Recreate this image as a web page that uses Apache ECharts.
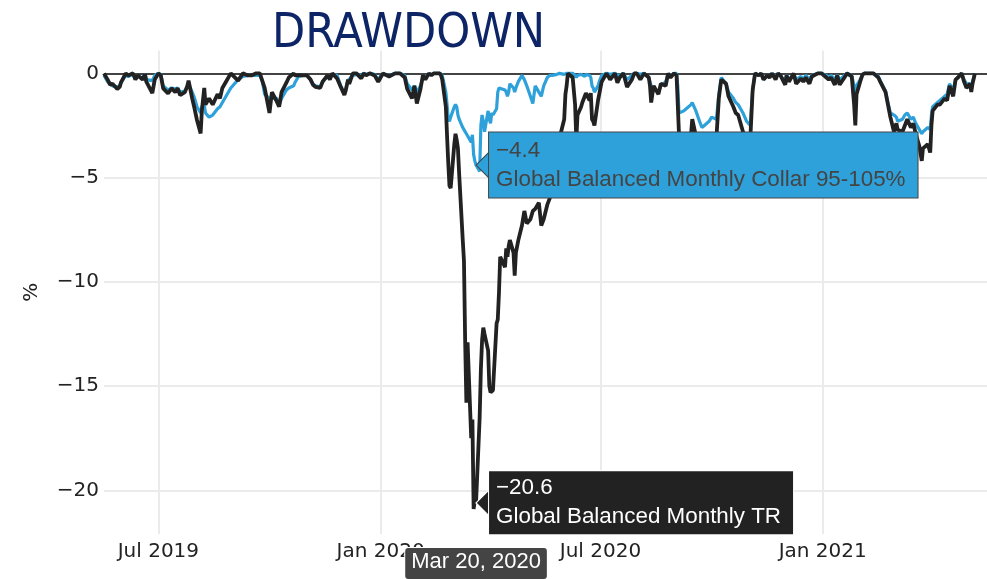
<!DOCTYPE html>
<html><head><meta charset="utf-8">
<script src="https://cdn.jsdelivr.net/npm/echarts@6/dist/echarts.min.js"></script>
<style>html,body{margin:0;padding:0;background:#fff}#c{width:987px;height:579px}</style>
</head><body><div id="c"></div>
<script>
const dates = [
'2019-05-17','2019-05-20','2019-05-22','2019-05-24','2019-05-28','2019-05-30','2019-05-31','2019-06-04','2019-06-06','2019-06-10',
'2019-06-12','2019-06-14','2019-06-18','2019-06-20','2019-06-21','2019-06-26','2019-06-28','2019-07-01','2019-07-03','2019-07-05',
'2019-07-09','2019-07-12','2019-07-15','2019-07-17','2019-07-19','2019-07-23','2019-07-25','2019-07-26','2019-07-29','2019-07-31',
'2019-08-02','2019-08-05','2019-08-06','2019-08-08','2019-08-09','2019-08-12','2019-08-15','2019-08-19','2019-08-21','2019-08-23',
'2019-08-26','2019-08-29','2019-08-30','2019-09-05','2019-09-09','2019-09-13','2019-09-16','2019-09-20','2019-09-23','2019-09-25',
'2019-09-27','2019-10-01','2019-10-03','2019-10-07','2019-10-09','2019-10-11','2019-10-15','2019-10-17','2019-10-21','2019-10-22',
'2019-10-25','2019-10-29','2019-11-01','2019-11-04','2019-11-06','2019-11-08','2019-11-12','2019-11-14','2019-11-18','2019-11-20',
'2019-11-22','2019-11-26','2019-11-29','2019-12-02','2019-12-03','2019-12-05','2019-12-06','2019-12-09','2019-12-12','2019-12-16',
'2019-12-18','2019-12-20','2019-12-23','2019-12-27','2019-12-30','2020-01-02','2020-01-03','2020-01-08','2020-01-13','2020-01-17',
'2020-01-21','2020-01-23','2020-01-27','2020-01-29','2020-01-31','2020-02-03','2020-02-05','2020-02-07','2020-02-10','2020-02-12',
'2020-02-14','2020-02-19','2020-02-20','2020-02-21','2020-02-24','2020-02-25','2020-02-26','2020-02-27','2020-02-28','2020-03-02',
'2020-03-03','2020-03-04','2020-03-05','2020-03-06','2020-03-09','2020-03-10','2020-03-11','2020-03-12','2020-03-13','2020-03-16',
'2020-03-17','2020-03-18','2020-03-19','2020-03-20','2020-03-23','2020-03-24','2020-03-25','2020-03-26','2020-03-27','2020-03-30',
'2020-03-31','2020-04-01','2020-04-02','2020-04-03','2020-04-06','2020-04-07','2020-04-08','2020-04-09','2020-04-13','2020-04-14',
'2020-04-15','2020-04-16','2020-04-17','2020-04-20','2020-04-21','2020-04-22','2020-04-24','2020-04-27','2020-04-29','2020-05-01',
'2020-05-04','2020-05-06','2020-05-08','2020-05-11','2020-05-13','2020-05-15','2020-05-18','2020-05-20','2020-05-22','2020-05-26',
'2020-05-28','2020-05-29','2020-06-01','2020-06-02','2020-06-03','2020-06-04','2020-06-08','2020-06-10','2020-06-11','2020-06-12',
'2020-06-15','2020-06-16','2020-06-18','2020-06-19','2020-06-22','2020-06-23','2020-06-24','2020-06-25','2020-06-26','2020-06-29',
'2020-06-30','2020-07-02','2020-07-06','2020-07-09','2020-07-13','2020-07-15','2020-07-17','2020-07-20','2020-07-23','2020-07-27',
'2020-07-29','2020-07-31','2020-08-03','2020-08-06','2020-08-10','2020-08-11','2020-08-12','2020-08-14','2020-08-18','2020-08-20',
'2020-08-24','2020-08-26','2020-08-28','2020-08-31','2020-09-02','2020-09-03','2020-09-04','2020-09-08','2020-09-10','2020-09-14',
'2020-09-15','2020-09-18','2020-09-21','2020-09-23','2020-09-25','2020-09-29','2020-10-01','2020-10-05','2020-10-07','2020-10-09',
'2020-10-13','2020-10-15','2020-10-19','2020-10-21','2020-10-23','2020-10-27','2020-10-30','2020-11-02','2020-11-04','2020-11-06',
'2020-11-09','2020-11-11','2020-11-13','2020-11-16','2020-11-18','2020-11-20','2020-11-23','2020-11-25','2020-11-27','2020-12-01',
'2020-12-02','2020-12-04','2020-12-08','2020-12-10','2020-12-14','2020-12-16','2020-12-18','2020-12-21','2020-12-23','2020-12-28',
'2020-12-31','2021-01-04','2021-01-06','2021-01-08','2021-01-11','2021-01-13','2021-01-15','2021-01-19','2021-01-21','2021-01-25',
'2021-01-27','2021-01-28','2021-01-29','2021-02-01','2021-02-03','2021-02-05','2021-02-09','2021-02-12','2021-02-16','2021-02-18',
'2021-02-22','2021-02-24','2021-02-26','2021-03-01','2021-03-03','2021-03-04','2021-03-08','2021-03-10','2021-03-12','2021-03-15',
'2021-03-17','2021-03-19','2021-03-22','2021-03-24','2021-03-25','2021-03-29','2021-03-31','2021-04-01','2021-04-02','2021-04-06',
'2021-04-08','2021-04-12','2021-04-14','2021-04-16','2021-04-19','2021-04-21','2021-04-23','2021-04-26','2021-04-28','2021-04-30',
'2021-05-03','2021-05-04','2021-05-05','2021-05-07'
];
// Global Balanced Monthly TR (black)
const trValues = [
0,-0.3,-0.55,-0.5,-0.75,-0.65,-0.45,0,-0.1,0,
-0.3,-0.1,-0.3,-0.05,-0.4,-0.95,-0.3,0,-0.1,-0.72,
-0.96,-0.72,-0.9,-0.72,-1.04,-0.9,-0.6,-0.35,-1.2,-1.7,
-2.25,-2.88,-1.8,-0.7,-1.5,-1.2,-1.5,-1.0,-1.2,-0.7,
-0.4,-0.1,0,-0.35,0,-0.1,-0.1,0,0,-0.35,
-0.7,-1.9,-0.9,-1.35,-1.6,-0.9,-0.45,-0.2,0,-0.1,
-0.1,-0.1,-0.1,-0.3,-0.55,-0.65,-0.7,-0.4,-0.1,-0.3,
0,-0.25,-0.65,-1.04,-0.85,-0.3,-0.5,0,0,-0.25,
0,-0.1,0,-0.1,-0.4,-0.1,0,-0.15,0,0,
-0.2,-0.75,-1.2,-0.6,-1.45,-0.75,-0.1,-0.3,0,-0.1,
0,0,-0.1,-0.3,-1.6,-3.0,-4.3,-5.4,-5.5,-3.4,
-2.9,-3.2,-3.6,-4.8,-8.0,-9.0,-12.9,-15.8,-12.9,-17.5,
-16.6,-20.9,-20.5,-20.6,-16.5,-14.2,-12.8,-12.2,-12.5,-13.3,
-15.0,-15.3,-15.3,-15.2,-12.0,-11.8,-10.5,-8.8,-9.3,-8.4,
-8.8,-8.3,-8.0,-8.6,-9.7,-8.6,-8.0,-7.3,-6.6,-7.2,
-7.0,-6.6,-6.5,-6.2,-7.3,-7.0,-6.3,-6.0,-5.0,-4.2,
-3.4,-2.9,-2.2,-1.0,-0.6,0,-0.2,-1.5,-3.2,-2.0,
-1.6,-1.4,-1.1,-0.95,-1.3,-0.95,-2.2,-2.3,-2.5,-1.3,
-1.0,-0.4,0,-0.3,0,-0.45,-0.2,0,-0.65,-0.3,
0,0,-0.3,0,-0.2,-0.6,-1.4,-0.6,-1.0,-0.5,
-0.6,0,-0.2,0,-0.1,-1.5,-2.9,-3.6,-3.3,-2.9,
-2.2,-3.0,-3.8,-4.0,-3.6,-3.4,-3.3,-3.1,-1.2,-0.3,
-0.5,-1.1,-1.6,-1.9,-2.0,-2.8,-3.3,-3.2,-0.8,0,
-0.1,0,-0.3,-0.1,-0.2,0,-0.3,0,-0.1,-0.55,
-0.1,-0.4,0,-0.5,-0.25,-0.4,-0.2,-0.5,-0.15,0,
0,-0.2,-0.3,-0.2,-0.55,-0.1,-0.55,-0.2,0,-0.15,
-1.5,-2.5,-1.0,-0.4,-0.05,0,0,0,-0.2,-0.45,
-0.9,-1.5,-2.1,-2.8,-2.4,-2.7,-2.8,-2.5,-2.2,-2.6,
-2.4,-2.9,-3.5,-4.2,-3.6,-3.4,-3.8,-2.5,-1.8,-1.5,
-1.5,-1.2,-1.3,-0.6,-1.1,-0.3,-0.2,0,-0.4,-0.7,
-0.5,-0.9,-0.5,0
];
// Global Balanced Monthly Collar 95-105% (blue)
const collarValues = [
-0.1,-0.4,-0.45,-0.6,-0.65,-0.6,-0.45,-0.1,-0.15,-0.05,
-0.25,-0.15,-0.2,-0.05,-0.3,-0.35,-0.1,0,-0.05,-0.6,
-0.8,-0.7,-0.75,-0.7,-0.9,-0.85,-0.6,-0.5,-0.9,-1.2,
-1.6,-1.9,-1.6,-1.5,-1.9,-2.1,-2.0,-1.7,-1.6,-1.4,
-1.1,-0.8,-0.7,-0.3,-0.15,-0.1,-0.1,-0.1,-0.1,-0.35,
-1.0,-1.2,-1.2,-1.2,-1.5,-1.2,-0.8,-0.7,-0.6,-0.45,
-0.15,-0.1,-0.1,-0.3,-0.5,-0.6,-0.65,-0.4,-0.15,-0.2,
-0.05,-0.1,-0.6,-0.95,-0.8,-0.35,-0.3,-0.1,-0.05,-0.1,
0,-0.05,0,-0.05,-0.3,-0.05,0,-0.1,0,0,
-0.1,-0.5,-0.8,-0.6,-0.9,-0.6,-0.2,-0.15,-0.05,-0.05,
0,0,-0.05,-0.1,-0.9,-1.5,-2.2,-2.3,-2.1,-1.6,
-1.5,-1.6,-2.0,-2.2,-2.6,-2.7,-2.8,-2.9,-2.95,-3.3,
-2.95,-3.9,-4.2,-4.4,-4.7,-2.5,-2.0,-2.3,-2.8,-1.8,
-2.2,-2.4,-1.9,-2.0,-1.7,-0.9,-0.7,-0.7,-0.8,-0.9,
-1.1,-0.9,-0.5,-0.7,-0.9,-0.7,-0.4,-0.1,-0.3,-0.6,
-1.1,-1.45,-0.6,-0.9,-1.1,-0.6,-0.2,-0.1,-0.1,-0.05,
0,0,-0.05,0,0,0,0,-0.1,-0.2,-0.1,
-0.05,-0.1,-0.15,-0.05,-0.1,-0.2,-0.6,-0.7,-0.9,-0.6,
-0.4,-0.1,0,-0.05,0,-0.1,-0.1,0,-0.3,-0.1,
0,0,-0.05,0,-0.2,-0.4,-0.6,-0.7,-0.9,-0.6,
-0.4,-0.05,-0.1,0,0,-0.6,-1.9,-1.8,-1.7,-1.5,
-1.4,-1.8,-2.3,-2.6,-2.5,-2.3,-2.1,-2.2,-1.0,-0.2,
-0.5,-0.9,-1.2,-1.4,-1.5,-1.9,-2.3,-2.5,-0.8,0,
-0.1,0,-0.3,-0.1,-0.2,0,-0.2,0,-0.1,-0.4,
-0.1,-0.3,-0.05,-0.3,-0.15,-0.3,-0.1,-0.3,-0.1,0,
0,-0.1,-0.2,-0.1,-0.3,-0.1,-0.3,-0.1,0,-0.1,
-0.6,-0.9,-0.6,-0.3,-0.05,0,0,0,-0.15,-0.4,
-0.85,-1.4,-1.9,-2.0,-2.1,-2.3,-2.2,-2.0,-1.9,-2.2,
-2.1,-2.4,-2.7,-2.9,-2.8,-2.6,-2.7,-2.0,-1.6,-1.4,
-1.3,-1.1,-1.0,-0.5,-0.8,-0.3,-0.2,0,-0.3,-0.5,
-0.5,-0.7,-0.4,0
];
const seriesNames = ['Global Balanced Monthly Collar 95-105%', 'Global Balanced Monthly TR'];
const yTicks = [0, -5, -10, -15, -20];
const xTicks = ['2019-07-01', '2020-01-01', '2020-07-01', '2021-01-01'];
const xMin = '2019-05-17';
const xMax = '2021-05-17';
const hoverDate = '2020-03-20';
const MONTHS = ['Jan','Feb','Mar','Apr','May','Jun','Jul','Aug','Sep','Oct','Nov','Dec'];

const BLUE = '#2ea1da', BLACK = '#222222', GRID = '#ebebeb';
const HOVER_FONT = '"Liberation Sans", Arial, sans-serif';
const TICK_FONT = '"DejaVu Sans", Verdana, sans-serif';
const minus = v => (v < 0 ? '\u2212' : '') + Math.abs(v);
const fmtNum = v => (v < 0 ? '\u2212' : '') + Math.abs(v).toFixed(1);
const toTime = s => { const p = s.split('-').map(Number); return new Date(p[0], p[1] - 1, p[2]).getTime(); };
const hi = dates.indexOf(hoverDate);

function hoverMarker(value, name, bg, border, textColor, padding) {
  const coord = [hoverDate, value];
  return {
    z: 10, silent: true, animation: false,
    data: [
      { coord: coord, symbol: 'path://M0,13L13,0L13,26Z', symbolSize: [13, 26], symbolOffset: [6.5, 0],
        itemStyle: { color: bg, borderColor: border, borderWidth: 1 }, label: { show: false } },
      { coord: coord, symbol: 'circle', symbolSize: 0, itemStyle: { color: bg },
        label: { show: true, position: 'right', distance: 13,
          formatter: fmtNum(value) + '\n' + name,
          backgroundColor: bg, borderColor: border, borderWidth: 1,
          color: textColor, fontFamily: HOVER_FONT, fontSize: 22.4, lineHeight: 29,
          padding: padding } }
    ]
  };
}

const gridLines = []
  .concat(yTicks.filter(v => v !== 0).map(v => ({ yAxis: v, lineStyle: { color: GRID, width: 2, type: 'solid' } })))
  .concat(xTicks.map(d => ({ xAxis: d, lineStyle: { color: GRID, width: 2, type: 'solid' } })))
  .concat([{ yAxis: 0, lineStyle: { color: '#444', width: 2, type: 'solid' } }]);

const chart = echarts.init(document.getElementById('c'), null, { renderer: 'canvas' });
chart.setOption({
  animation: false,
  backgroundColor: '#ffffff',
  title: {
    text: 'DRAWDOWN', left: 267, top: 6,
    textStyle: { fontFamily: '"Liberation Sans Narrow", "DejaVu Sans Condensed", sans-serif',
      fontSize: 48, fontWeight: 'normal', color: '#0d2466' }
  },
  tooltip: { show: false },
  grid: { left: 104, right: 0, top: 50.4, bottom: 44.9, containLabel: false },
  xAxis: {
    type: 'time', min: xMin, max: xMax, splitNumber: 4,
    axisLine: { show: false }, axisTick: { show: false },
    splitLine: { show: false },
    axisLabel: {
      margin: 8, fontFamily: TICK_FONT, fontSize: 20, color: '#222',
      formatter: function (v) { const d = new Date(v); return MONTHS[d.getMonth()] + ' ' + d.getFullYear(); }
    },
    axisPointer: {
      show: true, type: 'line', snap: false, status: 'show', triggerTooltip: false,
      value: toTime(hoverDate),
      lineStyle: { color: 'rgba(0,0,0,0)', width: 0 },
      label: {
        show: true, margin: 14,
        formatter: function () { const d = new Date(toTime(hoverDate)); return MONTHS[d.getMonth()] + ' ' + d.getDate() + ', ' + d.getFullYear(); },
        backgroundColor: '#444', color: '#fff', borderColor: '#fff', borderWidth: 1,
        fontFamily: HOVER_FONT, fontSize: 22, padding: [3, 6, 6, 6]
      }
    }
  },
  yAxis: {
    type: 'value', min: -22.1, max: 1.1,
    name: '%', nameLocation: 'middle', nameGap: 62, nameRotate: 90,
    nameTextStyle: { fontFamily: TICK_FONT, fontSize: 20, color: '#222' },
    axisLine: { show: false }, axisTick: { show: false },
    splitLine: { show: false },
    axisLabel: {
      margin: 5, fontFamily: TICK_FONT, fontSize: 20, color: '#222',
      formatter: function (v) { return yTicks.indexOf(Math.round(v * 1000) / 1000) >= 0 ? minus(v) : ''; }
    }
  },
  series: [
    {
      name: seriesNames[0], type: 'line', z: 2, showSymbol: false, symbol: 'none',
      emphasis: { disabled: true },
      lineStyle: { color: BLUE, width: 3.2 }, itemStyle: { color: BLUE },
      data: dates.map((d, i) => [d, collarValues[i]]),
      markLine: { silent: true, symbol: 'none', z: 1, animation: false, label: { show: false },
        emphasis: { disabled: true }, data: gridLines },
      markPoint: hoverMarker(collarValues[hi], seriesNames[0], BLUE, '#444', '#444', [3, 12, 4, 7])
    },
    {
      name: seriesNames[1], type: 'line', z: 3, showSymbol: false, symbol: 'none',
      emphasis: { disabled: true },
      lineStyle: { color: BLACK, width: 3.8 }, itemStyle: { color: BLACK },
      data: dates.map((d, i) => [d, trValues[i]]),
      markPoint: hoverMarker(trValues[hi], seriesNames[1], BLACK, '#ffffff', '#ffffff', [3, 12, 2, 7])
    }
  ]
});
</script></body></html>
